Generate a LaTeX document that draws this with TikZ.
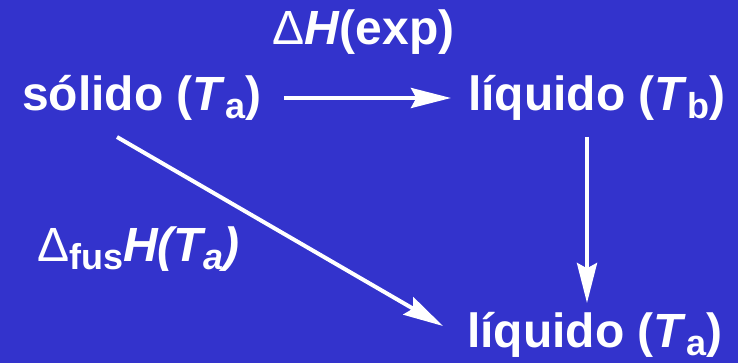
\documentclass[tikz,border=0pt]{standalone}
\usepackage{fontspec}
\setmainfont{Liberation Sans}
\usetikzlibrary{arrows.meta}
\definecolor{bgblue}{RGB}{51,51,204}
\newcommand{\lowsub}[1]{\raisebox{-6pt}{\fontsize{27}{27}\selectfont #1}}

\begin{document}
\begin{tikzpicture}[x=0.75pt,y=-0.75pt,
  every node/.style={font=\fontsize{36}{40}\selectfont\bfseries, text=white, inner sep=0pt, anchor=base west},
  arr/.style={-{Stealth[length=30pt,width=15pt,inset=4pt]}, line width=3pt, white}]
  % Background
  \fill[bgblue] (0,0) rectangle (738,363);

  % States
  \node (sa) at (22,111) {sólido (\textit{T}\lowsub{a})};
  \node (lb) at (468,111) {líquido (\textit{T}\lowsub{b})};
  \node (la) at (467,347) {líquido (\textit{T}\lowsub{a})};

  % Labels
  \node (hexp) at (272,45) {{\mdseries Δ}\textit{H}(exp)};
  \node (hfus) at (37,261) {{\mdseries Δ}\lowsub{fus}\textit{H(T\lowsub{a})}};

  % Arrows
  \draw[arr] ([xshift=16.5pt,yshift=9.75pt]sa.base east) -- ([xshift=-12.75pt,yshift=9.75pt]lb.base west);
  \draw[arr] ([xshift=89.25pt,yshift=-19.5pt]lb.base west) -- ([xshift=90pt,yshift=33pt]la.base west);
  \draw[arr] ([xshift=71.25pt,yshift=-19.5pt]sa.base west) -- ([xshift=-18pt,yshift=15.75pt]la.base west);
\end{tikzpicture}
\end{document}
